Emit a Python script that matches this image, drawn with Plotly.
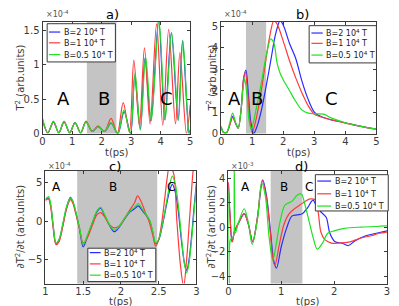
import plotly.graph_objects as go

W, H = 399, 306

# ---------------- data (values scaled: a,b,c in 1e-4 ; d in 1e-3) ----------------
labels = ["B=2 10<sup>4</sup> T", "B=1 10<sup>4</sup> T", "B=0.5 10<sup>4</sup> T"]
colors = ["#2a2aff", "#ff3a3a", "#22e022"]

# panel a
ta_blue = [0, 0.18, 0.37, 0.55, 0.73, 0.92, 1.10, 1.29, 1.47, 1.68, 1.88, 2.10, 2.32, 2.55, 2.76, 2.98, 3.12, 3.31, 3.47, 3.67, 3.93, 4.14, 4.36, 4.59, 4.74, 4.96, 5.0]
Ta_blue = [0.20, 0.01, 0.17, 0.01, 0.17, 0.01, 0.16, 0.01, 0.17, 0.03, 0.10, 0.03, 0.15, 0.0, 0.32, 0.0, 0.84, 0.06, 1.10, 0.18, 1.66, 0.20, 1.47, 0.19, 1.35, 0.0, 0.05]
ta_red = [0, 0.18, 0.37, 0.55, 0.73, 0.92, 1.10, 1.29, 1.47, 1.68, 1.88, 2.10, 2.32, 2.53, 2.73, 2.94, 3.09, 3.28, 3.45, 3.64, 3.86, 4.07, 4.27, 4.50, 4.65, 4.87, 5.0]
Ta_red = [0.20, 0.01, 0.17, 0.01, 0.17, 0.01, 0.16, 0.01, 0.18, 0.03, 0.11, 0.03, 0.22, 0.0, 0.45, 0.02, 1.07, 0.10, 1.25, 0.14, 1.60, 0.12, 1.52, 0.14, 1.18, 0.0, 0.42]
ta_green = [0, 0.18, 0.37, 0.55, 0.73, 0.92, 1.10, 1.29, 1.47, 1.68, 1.88, 2.10, 2.32, 2.55, 2.75, 2.97, 3.13, 3.31, 3.49, 3.68, 3.94, 4.15, 4.37, 4.60, 4.75, 4.96, 5.0]
Ta_green = [0.22, 0.01, 0.18, 0.01, 0.18, 0.01, 0.16, 0.01, 0.17, 0.03, 0.10, 0.03, 0.16, 0.0, 0.34, 0.0, 0.88, 0.05, 1.12, 0.19, 1.66, 0.20, 1.47, 0.20, 1.36, 0.0, 0.06]

# panel b
tb_blue = [0, 0.08, 0.18, 0.28, 0.37, 0.46, 0.55, 0.65, 0.73, 0.80, 0.87, 0.95, 1.05, 1.15, 1.3, 1.45, 1.6, 1.75, 1.9, 2.0, 2.2, 2.4, 2.6, 2.8, 3.0, 3.2, 3.5, 4.0, 4.5, 5.0]
Tb_blue = [0.3, 0.05, 0.05, 0.4, 0.8, 0.5, 0.25, 1.2, 2.6, 2.95, 2.0, 0.6, 0.0, 0.3, 1.1, 2.2, 3.4, 4.6, 5.25, 5.05, 4.2, 3.5, 2.45, 1.6, 1.0, 0.8, 0.65, 0.5, 0.33, 0.2]
tb_red = [0, 0.08, 0.18, 0.28, 0.37, 0.46, 0.55, 0.65, 0.72, 0.78, 0.85, 0.92, 1.0, 1.1, 1.25, 1.4, 1.55, 1.7, 1.8, 2.0, 2.2, 2.4, 2.6, 2.8, 3.0, 3.2, 3.5, 4.0, 4.5, 5.0]
Tb_red = [0.3, 0.05, 0.05, 0.4, 0.75, 0.5, 0.25, 1.2, 2.5, 2.85, 2.0, 0.7, 0.05, 0.5, 1.6, 3.0, 4.4, 5.25, 5.1, 4.3, 3.4, 2.6, 1.9, 1.3, 0.9, 0.78, 0.65, 0.48, 0.33, 0.2]
tb_green = [0, 0.08, 0.18, 0.28, 0.37, 0.46, 0.55, 0.63, 0.70, 0.76, 0.83, 0.90, 0.97, 1.05, 1.15, 1.3, 1.45, 1.6, 1.7, 1.8, 1.9, 2.0, 2.2, 2.4, 2.6, 2.8, 3.0, 3.3, 3.5, 4.0, 4.5, 5.0]
Tb_green = [0.35, 0.05, 0.05, 0.5, 0.95, 0.55, 0.25, 0.9, 2.0, 2.55, 1.8, 0.6, 0.2, 0.6, 1.3, 2.4, 3.6, 4.4, 4.2, 3.3, 2.8, 2.5, 2.0, 1.5, 1.1, 0.95, 0.92, 0.9, 0.75, 0.5, 0.33, 0.2]

# panel c
tc_blue = [1.0, 1.04, 1.07, 1.10, 1.14, 1.18, 1.23, 1.28, 1.33, 1.36, 1.40, 1.45, 1.50, 1.55, 1.62, 1.68, 1.73, 1.78, 1.85, 1.91, 1.97, 2.05, 2.12, 2.18, 2.23, 2.28, 2.33, 2.38, 2.42, 2.46, 2.50, 2.55, 2.60, 2.64, 2.68, 2.72, 2.76, 2.80, 2.84, 2.87, 2.90, 2.94, 2.97, 3.0]
dc_blue = [2.8, 3.0, 2.0, -0.5, -3.0, -2.5, -0.5, 1.8, 3.1, 2.6, 1.2, -1.0, -3.4, -2.2, -0.3, 1.2, 1.7, 0.8, -0.6, -1.4, -0.9, 0.3, 1.2, 1.6, 2.0, 1.4, 0.8, 0.0, -1.5, -3.0, -2.5, -0.5, 2.0, 3.8, 4.8, 3.8, 1.2, -2.5, -5.5, -6.5, -5.2, -1.5, 2.0, 5.0]
tc_red = [1.0, 1.04, 1.07, 1.10, 1.14, 1.18, 1.23, 1.28, 1.33, 1.36, 1.40, 1.45, 1.50, 1.55, 1.62, 1.68, 1.73, 1.78, 1.85, 1.92, 1.98, 2.05, 2.12, 2.18, 2.22, 2.27, 2.32, 2.37, 2.42, 2.46, 2.50, 2.54, 2.58, 2.61, 2.64, 2.69, 2.74, 2.79, 2.83, 2.87, 2.91, 2.95, 2.98]
dc_red = [2.7, 2.9, 1.8, -0.7, -3.1, -2.7, -0.7, 1.6, 2.8, 2.4, 1.0, -1.0, -2.9, -2.3, -0.6, 0.8, 1.1, 0.6, -0.5, -0.9, -0.6, 0.4, 1.5, 2.4, 3.3, 2.5, 1.2, 0.0, -1.8, -3.3, -2.4, -0.2, 3.0, 5.5, 7.0, 6.5, 0.0, -6.0, -8.6, -5.0, 0.5, 6.0, 9.0]
tc_green = tc_blue
dc_green = [2.9, 3.2, 2.2, -0.3, -2.9, -2.4, -0.3, 1.9, 3.0, 2.7, 1.3, -0.8, -3.1, -2.0, -0.2, 1.3, 1.8, 0.9, -0.5, -1.2, -0.8, 0.4, 1.3, 1.8, 2.3, 1.6, 0.9, 0.1, -1.3, -2.9, -2.4, -0.4, 2.3, 4.5, 5.9, 4.8, 2.0, -2.0, -5.6, -6.8, -5.6, -2.0, 1.5, 4.8]

# panel d
td_blue = [0, 0.03, 0.07, 0.12, 0.2, 0.3, 0.38, 0.46, 0.55, 0.65, 0.72, 0.8, 0.86, 0.91, 1.0, 1.1, 1.2, 1.3, 1.4, 1.5, 1.6, 1.68, 1.76, 1.85, 1.92, 2.02, 2.15, 2.27, 2.4, 2.6, 2.8, 3.0]
dd_blue = [3.6, 1.0, -1.2, -0.3, 0.4, 1.1, 0.2, -1.2, 0.8, 3.85, 2.6, -0.5, -2.8, -3.35, -1.6, -0.1, 0.9, 1.0, 1.1, 1.6, 2.2, 1.6, 1.2, 0.8, -0.5, -1.2, -1.3, -1.5, -1.1, -0.7, -0.5, -0.3]
td_red = [0, 0.03, 0.07, 0.12, 0.2, 0.3, 0.38, 0.46, 0.55, 0.64, 0.72, 0.8, 0.84, 0.88, 0.96, 1.05, 1.15, 1.25, 1.35, 1.45, 1.55, 1.65, 1.7, 1.75, 1.82, 1.95, 2.1, 2.3, 2.5, 2.7, 2.85, 3.0]
dd_red = [3.7, 1.0, -1.2, -0.3, 0.4, 1.1, 0.2, -1.2, 0.8, 3.8, 2.4, -0.8, -2.6, -3.1, -1.5, 0.2, 1.1, 1.5, 1.8, 2.1, 2.3, 2.2, 1.2, -0.4, -1.0, -1.3, -1.3, -1.2, -0.9, -0.7, -0.5, -0.4]
td_green = [0, 0.015, 0.04, 0.09, 0.11, 0.13, 0.2, 0.3, 0.38, 0.45, 0.55, 0.63, 0.7, 0.77, 0.84, 0.9, 0.98, 1.07, 1.2, 1.3, 1.38, 1.45, 1.52, 1.6, 1.68, 1.78, 1.88, 2.0, 2.2, 2.5, 2.8, 3.0]
dd_green = [3.0, -4.8, -1.0, -0.8, 5.0, -0.5, 0.5, 1.5, 0.3, -1.4, 0.6, 3.6, 2.5, -0.8, -2.7, -1.5, 0.5, 1.8, 2.1, 2.6, 2.7, 1.8, 0.6, -0.8, -1.8, -1.3, -0.5, -0.3, -0.1, 0.0, 0.05, 0.1]

panels = {
    "a": dict(series=[(ta_blue, Ta_blue), (ta_red, Ta_red), (ta_green, Ta_green)], ax=("x", "y")),
    "b": dict(series=[(tb_blue, Tb_blue), (tb_red, Tb_red), (tb_green, Tb_green)], ax=("x2", "y2")),
    "c": dict(series=[(tc_blue, dc_blue), (tc_red, dc_red), (tc_green, dc_green)], ax=("x3", "y3")),
    "d": dict(series=[(td_blue, dd_blue), (td_red, dd_red), (td_green, dd_green)], ax=("x4", "y4")),
}

def X(px):
    return px / W

def Y(py):
    return 1 - py / H

fig = go.Figure()
for key, p in panels.items():
    for (t, v), c in zip(p["series"], colors):
        fig.add_trace(go.Scatter(x=t, y=v, mode="lines", xaxis=p["ax"][0], yaxis=p["ax"][1],
                                 line=dict(color=c, width=1.2, shape="spline", smoothing=0.9),
                                 showlegend=False, hoverinfo="skip"))

FONT = "DejaVu Sans"
AXC = "#3a3a3a"

def axis(domain, rng, tickvals, anchor, standoff=0):
    d = dict(domain=domain, range=rng, tickvals=tickvals, anchor=anchor,
             showline=True, linecolor=AXC, linewidth=1, mirror="ticks",
             ticks="inside", ticklen=3, tickcolor=AXC, showgrid=False, zeroline=False,
             tickfont=dict(family=FONT, size=10, color=AXC), fixedrange=True)
    if standoff:
        d["ticklabelstandoff"] = standoff
    return d

ya_dom = [Y(127), Y(13)]
yc_dom = [Y(280), Y(165)]
layout = dict(
    width=W, height=H, margin=dict(l=0, r=0, t=0, b=0),
    paper_bgcolor="white", plot_bgcolor="white",
    xaxis=axis([X(32), X(182)], [0, 5], [0, 1, 2, 3, 4, 5], "y", -2),
    yaxis=axis(ya_dom, [0, 1.63], [0, 0.5, 1, 1.5], "x"),
    xaxis2=axis([X(213.3), X(371)], [0, 5], [0, 1, 2, 3, 4, 5], "y2", -2),
    yaxis2=axis(ya_dom, [0, 5.2], [0, 1, 2, 3, 4, 5], "x2"),
    xaxis3=axis([X(35), X(188.3)], [1, 3], [1, 1.5, 2, 2.5, 3], "y3", -2),
    yaxis3=axis(yc_dom, [-8.2, 6.6], [-5, 0, 5], "x3"),
    xaxis4=axis([X(220.7), X(381.7)], [0, 3], [0, 1, 2, 3], "y4", -2),
    yaxis4=axis(yc_dom, [-4.6, 4.6], [-4, -2, 0, 2, 4], "x4"),
)
fig.update_layout(**layout)

shade = "#c4c4c4"
shapes = []
for xr, yr, x0, x1 in [("x", "y domain", 1.5, 2.5), ("x2", "y2 domain", 0.8, 1.45),
                       ("x3", "y3 domain", 1.42, 2.48), ("x4", "y4 domain", 0.8, 1.4)]:
    shapes.append(dict(type="rect", xref=xr, yref=yr, x0=x0, x1=x1, y0=0, y1=1,
                       fillcolor=shade, line=dict(width=0), layer="below"))

annotations = []

def ann(px, py, text, size, color="black", xanchor="center", angle=0):
    annotations.append(dict(x=X(px), y=Y(py), xref="paper", yref="paper", text=text,
                            showarrow=False, xanchor=xanchor, yanchor="middle", textangle=angle,
                            font=dict(family=FONT, size=size, color=color)))

def legend(x0, y0, x1, y1, rows, lx0, lx1, tx):
    shapes.append(dict(type="rect", xref="paper", yref="paper", x0=X(x0), x1=X(x1), y0=Y(y1), y1=Y(y0),
                       fillcolor="white", line=dict(color=AXC, width=1), layer="above"))
    for ry, lab, c in zip(rows, labels, colors):
        shapes.append(dict(type="line", xref="paper", yref="paper", x0=X(lx0), x1=X(lx1), y0=Y(ry), y1=Y(ry),
                           line=dict(color=c, width=1.2), layer="above"))
        ann(tx, ry, lab, 8, color="#222", xanchor="left")

legend(36.7, 15, 106, 54, [23.5, 34.5, 46.5], 38.5, 50, 51.5)
legend(302.7, 17, 371, 55, [24.5, 35, 47], 305, 316.5, 318)
legend(78, 244, 147, 278, [248.5, 260, 271.5], 80, 91, 92.5)
legend(309, 169, 383, 206, [175.5, 188.5, 201], 311, 325, 326.5)

# axis titles
ytit_ab = "T<sup>2</sup> (arb.units)"
ytit_cd = "∂T<sup>2</sup>/∂t (arb.units)"
ann(9, 70, ytit_ab, 10, AXC, angle=-90)
ann(203, 70, ytit_ab, 10, AXC, angle=-90)
ann(9, 222, ytit_cd, 10, AXC, angle=-90)
ann(203, 222, ytit_cd, 10, AXC, angle=-90)
for px, py in [(107, 146), (292, 146), (111, 298), (301, 298)]:
    ann(px, py, "t(ps)", 10, AXC)

# exponent labels
for px, py, e in [(33, 5, "-4"), (214, 5, "-4"), (36, 160, "-4"), (221, 160, "-3")]:
    ann(px, py, "×10<sup>%s</sup>" % e, 8, "#555", xanchor="left")

# panel titles
for px, py, t in [(103, 6, "a)"), (296, 6, "b)"), (106, 161, "c)"), (295, 161, "d)")]:
    ann(px, py, t, 13)

# region letters
for px, py, t, s in [(53, 91, "A", 18), (94, 91, "B", 18), (158, 91, "C", 18),
                     (227, 91, "A", 18), (250, 91, "B", 18), (325, 91, "C", 18),
                     (46, 182, "A", 12), (104, 182, "B", 12), (162, 182, "C", 12),
                     (238, 182, "A", 12), (277, 182, "B", 12), (303, 182, "C", 12)]:
    ann(px, py, t, s)

fig.update_layout(shapes=shapes, annotations=annotations)
fig.write_html("out.html")
